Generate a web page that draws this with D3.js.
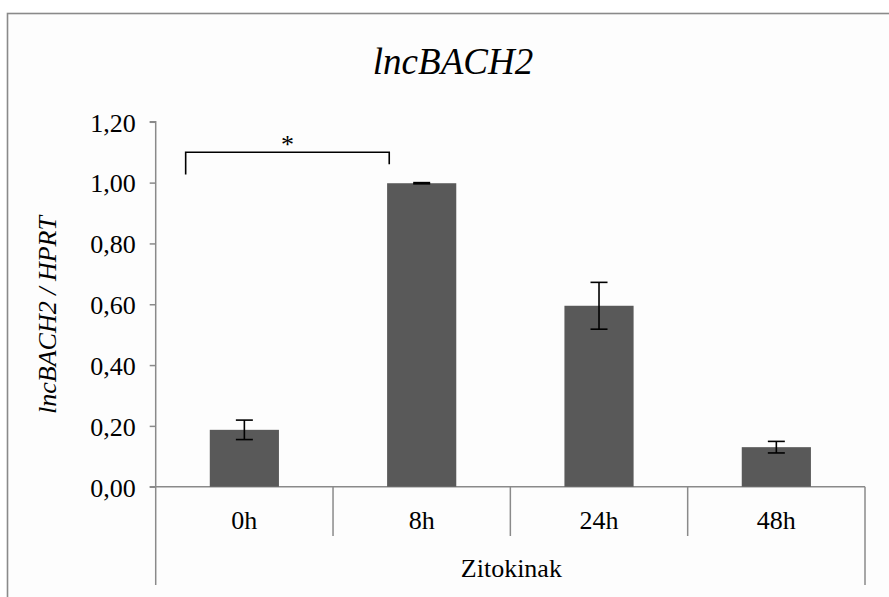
<!DOCTYPE html>
<html><head><meta charset="utf-8">
<script src="https://cdn.jsdelivr.net/npm/d3@7"></script>
<style>
@font-face{font-family:"ChartSerif";font-style:normal;font-weight:400;src:local("Liberation Serif"),local("LiberationSerif"),local("Liberation Serif Regular"),local("LiberationSerif-Regular");}
@font-face{font-family:"ChartSerif";font-style:italic;font-weight:400;src:local("Liberation Serif Italic"),local("LiberationSerif-Italic");}
</style>
</head><body>
<script>
const categories = ["0h", "8h", "24h", "48h"];
const values = [0.187, 0.998, 0.595, 0.130];
const errors = [0.032, 0.002, 0.077, 0.019];
const yTicks = [0, 0.2, 0.4, 0.6, 0.8, 1.0, 1.2];
const titleText = "lncBACH2";
const yLabel = "lncBACH2 / HPRT";
const xLabel = "Zitokinak";
const sigPair = ["0h", "8h"];
const sigMark = "*";
const fontNames = ["Liberation Serif", "ChartSerif", "Times New Roman", "Tinos", "FreeSerif", "Nimbus Roman"];

const W = 889, H = 597;
d3.select("body").style("margin", "0");
const svg = d3.select("body").append("svg").attr("width", W).attr("height", H).style("display", "block");
const ff = () => fontNames.map(f => `"${f}"`).join(", ");

// frame
svg.append("rect").attr("x", 7.5).attr("y", 13.5).attr("width", W).attr("height", H)
  .attr("fill", "#fdfdfd").attr("stroke", "#8a8a8a").attr("stroke-width", 1.6);

const x0 = 155.7, x1 = 865, yTop = 121.8, yBot = 486.7;
const x = d3.scaleBand().domain(categories).range([x0, x1]).paddingInner(0).paddingOuter(0);
const y = d3.scaleLinear().domain([0, 1.2]).range([yBot, yTop]);
const bw = x.bandwidth() * 0.39;

// y axis
const yAxis = d3.axisLeft(y).tickValues(yTicks).tickSize(6).tickPadding(14)
  .tickFormat(d => d3.format(".2f")(d).replace(".", ","));
const gy = svg.append("g").attr("transform", `translate(${x0},0)`).call(yAxis);
gy.attr("font-family", null).attr("font-size", null);
gy.select(".domain").attr("stroke", "#8a8a8a").attr("stroke-width", 1.5).attr("d", `M-6,${yTop}H0V${yBot}`);
gy.selectAll(".tick line").attr("stroke", "#8a8a8a").attr("stroke-width", 1.5);
gy.selectAll(".tick text").style("font-family", ff).style("font-size", "26px").attr("fill", "#000").attr("dy", "0.36em");

// x axis line
svg.append("line").attr("x1", x0 - 6).attr("x2", x1).attr("y1", yBot).attr("y2", yBot)
  .attr("stroke", "#8a8a8a").attr("stroke-width", 1.5);
// category separators
const seps = categories.map(c => x(c)).concat([x1]);
svg.selectAll("line.sep").data(seps).join("line").attr("class", "sep")
  .attr("x1", d => d).attr("x2", d => d)
  .attr("y1", yBot)
  .attr("y2", (d, i) => (i === 0 || i === seps.length - 1) ? 585 : 536)
  .attr("stroke", "#8a8a8a").attr("stroke-width", 1.5);

// bars
svg.selectAll("rect.bar").data(categories).join("rect").attr("class", "bar")
  .attr("x", c => x(c) + x.bandwidth() / 2 - bw / 2)
  .attr("y", (c, i) => y(values[i]))
  .attr("width", bw)
  .attr("height", (c, i) => yBot - y(values[i]))
  .attr("fill", "#595959");

// error bars
const eg = svg.append("g").attr("stroke", "#000").attr("stroke-width", 1.6);
categories.forEach((c, i) => {
  const cx = x(c) + x.bandwidth() / 2;
  const hi = y(values[i] + errors[i]), lo = y(values[i] - errors[i]);
  eg.append("line").attr("x1", cx).attr("x2", cx).attr("y1", hi).attr("y2", lo);
  eg.append("line").attr("x1", cx - 8.5).attr("x2", cx + 8.5).attr("y1", hi).attr("y2", hi);
  eg.append("line").attr("x1", cx - 8.5).attr("x2", cx + 8.5).attr("y1", lo).attr("y2", lo);
});

// category labels
svg.selectAll("text.cat").data(categories).join("text").attr("class", "cat")
  .attr("x", c => x(c) + x.bandwidth() / 2).attr("y", 528.5)
  .attr("text-anchor", "middle").style("font-family", ff).style("font-size", "26px").text(c => c);

// x label
svg.append("text").attr("x", (x0 + x1) / 2 + 1).attr("y", 577)
  .attr("text-anchor", "middle").style("font-family", ff).style("font-size", "26px").text(xLabel);

// title
svg.append("text").attr("x", 453).attr("y", 74)
  .attr("text-anchor", "middle").style("font-family", ff).style("font-style", "italic")
  .style("font-size", "37px").text(titleText);

// y label
svg.append("text").attr("transform", `translate(56,315) rotate(-90)`)
  .attr("text-anchor", "middle").style("font-family", ff).style("font-style", "italic")
  .style("font-size", "26px").text(yLabel);

// significance bracket
const bxL = x(sigPair[0]) + x.bandwidth() * 0.169;
const bxR = x(sigPair[1]) + x.bandwidth() * 0.317;
const by = y(1.10);
svg.append("path")
  .attr("d", `M${bxL},${y(1.027)}V${by}H${bxR}V${y(1.06)}`)
  .attr("fill", "none").attr("stroke", "#000").attr("stroke-width", 1.6);
svg.append("text").attr("x", (bxL + bxR) / 2).attr("y", by + 1)
  .attr("text-anchor", "middle").style("font-family", ff).style("font-size", "26px").text(sigMark);
</script>
</body></html>
